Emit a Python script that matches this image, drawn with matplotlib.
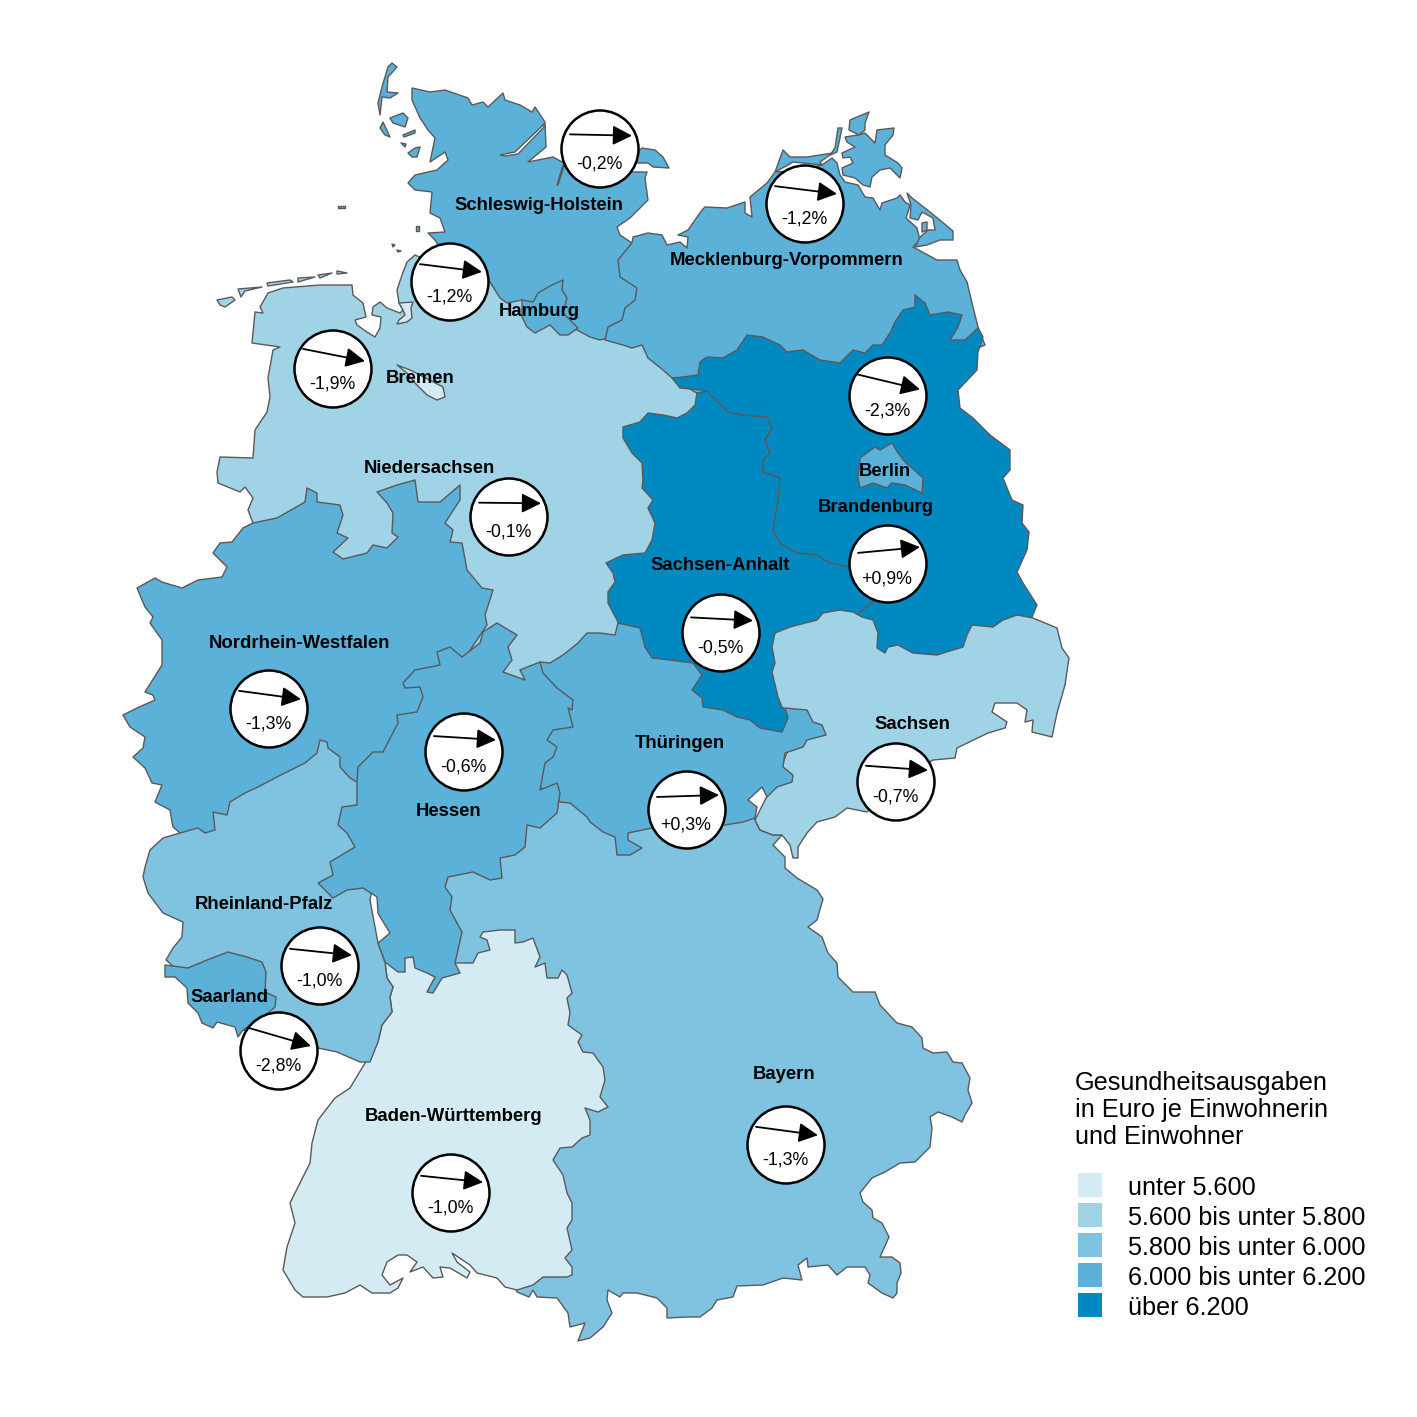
import matplotlib
matplotlib.use("Agg")
import matplotlib.pyplot as plt
from matplotlib.patches import Polygon, Circle, Rectangle, FancyArrowPatch

plt.rcParams['font.family'] = ['Liberation Sans', 'DejaVu Sans']

C1, C2, C3, C4, C5 = '#d4ebf4', '#a1d3e7', '#80c3e0', '#5bb1d7', '#0088c0'
EDGE = '#595959'

bayern = [(755,820),(760,830),(773,835),(782,835),(773,845),(785,857),(785,868),(797,878),(817,890),(823,899),(817,920),(808,927),(822,937),(828,953),(837,963),(838,977),(853,992),(875,992),(880,1005),(897,1023),(912,1027),(922,1038),(923,1048),(933,1053),(947,1052),(953,1062),(962,1063),(970,1078),(968,1090),(972,1103),(965,1115),(962,1122),(952,1117),(938,1112),(930,1117),(932,1128),(930,1147),(915,1162),(900,1163),(885,1172),(872,1178),(860,1193),(863,1202),(872,1210),(873,1218),(882,1223),(889,1237),(880,1257),(892,1257),(900,1263),(901,1273),(897,1283),(897,1293),(893,1298),(882,1293),(868,1283),(870,1275),(865,1267),(847,1267),(837,1275),(828,1265),(808,1267),(807,1258),(798,1265),(802,1280),(783,1278),(763,1285),(737,1286),(733,1297),(717,1300),(712,1308),(700,1317),(687,1317),(667,1318),(667,1308),(657,1298),(637,1293),(623,1293),(620,1297),(608,1290),(607,1300),(612,1313),(603,1327),(590,1338),(578,1341),(585,1323),(570,1327),(568,1313),(557,1298),(537,1297),(533,1290),(529,1297),(517,1292),(450,1100),(420,950),(440,860),(560,780),(700,760),(745,790)]
baden_wuerttemberg = [(385,962),(400,945),(440,945),(455,963),(473,963),(478,953),(490,950),(487,940),(480,937),(483,932),(500,930),(515,930),(515,943),(523,942),(533,938),(540,957),(535,967),(545,963),(547,978),(558,978),(562,970),(567,975),(572,993),(567,998),(570,1013),(568,1025),(582,1035),(578,1042),(583,1052),(593,1053),(603,1067),(605,1080),(600,1097),(608,1107),(598,1112),(585,1108),(590,1120),(590,1135),(582,1138),(572,1147),(560,1148),(553,1160),(563,1175),(567,1193),(572,1203),(572,1220),(567,1228),(572,1250),(565,1258),(572,1267),(572,1275),(567,1277),(543,1277),(533,1285),(517,1290),(505,1287),(497,1278),(477,1273),(470,1265),(452,1253),(457,1262),(470,1272),(467,1278),(450,1268),(440,1267),(443,1277),(433,1278),(423,1267),(410,1272),(417,1262),(407,1255),(398,1255),(387,1262),(382,1275),(390,1285),(403,1278),(398,1288),(390,1293),(372,1293),(360,1285),(345,1293),(327,1297),(303,1297),(295,1290),(283,1270),(287,1247),(295,1223),(290,1203),(303,1177),(310,1163),(312,1143),(318,1120),(335,1098),(350,1088),(365,1063),(378,1042),(382,1025),(392,1012),(390,997),(393,987),(387,978)]
niedersachsen = [(255,312),(263,313),(260,307),(268,293),(283,288),(320,285),(352,285),(353,295),(363,303),(366,317),(355,320),(357,325),(367,332),(375,337),(380,328),(381,317),(372,315),(373,307),(380,302),(387,308),(400,313),(403,310),(399,303),(397,290),(402,275),(407,262),(415,255),(450,270),(490,282),(530,300),(620,320),(680,370),(710,400),(660,460),(660,550),(640,600),(630,640),(560,680),(530,690),(470,660),(440,600),(330,565),(260,540),(253,523),(248,510),(253,498),(245,487),(240,492),(218,483),(217,472),(220,457),(253,458),(255,430),(267,412),(270,397),(268,378),(273,350),(280,347),(252,343)]
frisian_1 = [(217,300),(232,297),(235,300),(225,307),(220,305)]
frisian_2 = [(238,289),(262,287),(245,291),(241,297)]
frisian_3 = [(267,283),(290,280),(293,282),(268,286)]
frisian_4 = [(298,278),(315,277),(298,282)]
frisian_5 = [(318,275),(332,273),(320,278)]
frisian_6 = [(337,271),(347,273),(337,274)]
schleswig_holstein = [(412,88),(430,92),(445,90),(468,98),(472,105),(483,102),(488,107),(503,93),(505,100),(520,105),(532,112),(535,107),(545,122),(546,147),(528,162),(553,157),(562,162),(600,175),(633,172),(647,172),(645,178),(648,200),(630,218),(617,227),(620,235),(632,243),(650,290),(620,335),(600,340),(590,337),(577,330),(550,320),(522,300),(507,303),(500,298),(490,282),(450,270),(437,243),(435,240),(428,233),(445,232),(440,218),(430,213),(432,192),(415,190),(408,183),(415,175),(437,170),(448,160),(445,152),(430,162),(435,138),(428,130),(420,118),(412,100)]
fehmarn = [(635,155),(642,148),(655,150),(663,157),(669,168),(653,167),(648,163),(635,163)]
sylt = [(392,63),(397,67),(388,77),(387,92),(398,93),(390,98),(382,97),(380,115),(378,103),(382,87),(388,67)]
foehr = [(390,118),(403,113),(408,118),(405,127),(393,123)]
amrum = [(383,122),(390,137),(385,135),(380,128)]
pellworm = [(408,153),(415,148),(420,147),(417,157),(412,157)]
hallig_1 = [(403,135),(415,130),(415,133),(404,137)]
hallig_2 = [(401,143),(406,144),(405,147)]
hallig_3 = [(338,206),(345,206),(345,208),(338,208)]
hallig_4 = [(416,226),(419,226),(419,231),(416,231)]
hallig_5 = [(392,244),(395,245),(393,247)]
hallig_6 = [(397,250),(401,251),(398,252)]
hamburg = [(522,300),(533,302),(538,293),(552,285),(563,280),(562,290),(567,298),(563,313),(578,328),(568,335),(560,335),(550,325),(535,333),(527,327),(522,317)]
mecklenburg = [(632,243),(633,237),(648,233),(662,235),(667,245),(680,242),(687,248),(688,237),(678,235),(688,230),(702,210),(705,207),(727,208),(745,202),(745,213),(752,217),(750,197),(767,183),(775,172),(800,170),(822,165),(832,158),(837,163),(840,175),(845,182),(858,185),(865,197),(873,198),(880,210),(882,203),(897,198),(900,195),(905,202),(910,205),(908,212),(906,218),(917,228),(920,240),(913,247),(937,260),(957,260),(960,270),(967,282),(973,307),(978,327),(985,345),(900,380),(700,395),(672,378),(663,370),(648,358),(642,345),(632,348),(623,345),(605,340),(608,327),(622,320),(625,308),(635,300),(637,288),(620,277),(618,260)]
darss = [(775,172),(783,150),(790,157),(807,157),(833,153),(820,162),(822,165),(803,163),(793,162),(788,165)]
usedom = [(907,193),(912,198),(930,212),(953,231),(953,240),(940,240),(927,245),(915,247),(920,237),(928,230),(935,230),(933,218),(922,212),(918,220),(910,218),(911,205)]
usedom_inner = [(922,223),(927,222),(927,230),(922,232)]
ruegen = [(845,137),(858,135),(865,133),(875,143),(877,130),(894,128),(893,135),(885,145),(885,155),(898,163),(902,168),(900,178),(890,168),(880,170),(872,177),(870,187),(863,185),(855,178),(843,175),(842,168),(853,163),(850,157),(843,158),(842,153),(855,147),(847,142)]
wittow = [(849,130),(850,120),(869,112),(865,123),(865,130),(859,135)]
hiddensee = [(838,128),(842,128),(837,152),(830,155),(835,148)]
brandenburg = [(672,378),(683,377),(698,375),(700,362),(707,357),(723,358),(737,350),(747,335),(763,337),(780,345),(787,352),(803,350),(820,360),(840,363),(853,350),(865,353),(873,345),(882,345),(890,333),(895,322),(903,310),(915,307),(915,295),(925,303),(930,315),(948,312),(962,315),(958,327),(950,340),(965,340),(978,328),(983,337),(978,352),(977,370),(958,390),(960,408),(973,418),(990,435),(1010,450),(1010,470),(1003,478),(1012,500),(1023,505),(1022,523),(1029,532),(1027,550),(1017,572),(1023,583),(1037,605),(1032,617),(1000,640),(900,670),(830,640),(800,590),(760,500),(720,420),(702,390),(680,388)]
sachsen_anhalt = [(707,391),(713,397),(728,412),(743,415),(767,417),(772,428),(765,440),(770,453),(763,460),(763,472),(780,478),(778,500),(773,530),(780,543),(797,553),(817,555),(830,563),(850,567),(873,602),(860,612),(840,640),(790,690),(795,720),(775,745),(700,720),(640,660),(618,623),(618,622),(608,603),(608,592),(615,582),(613,573),(606,563),(623,555),(645,553),(652,540),(655,523),(648,508),(653,500),(642,488),(643,480),(642,463),(632,453),(623,438),(623,427),(640,422),(648,413),(663,415),(677,418),(687,413),(695,405),(697,393)]
sachsen = [(775,633),(790,627),(817,620),(823,613),(840,610),(853,612),(862,617),(873,620),(878,633),(877,648),(885,653),(888,647),(898,645),(913,653),(937,655),(953,650),(963,647),(967,635),(972,625),(993,627),(1003,620),(1017,615),(1033,618),(1057,628),(1062,648),(1069,658),(1065,685),(1057,713),(1052,737),(1032,732),(1033,720),(1025,722),(1027,710),(1017,703),(995,703),(992,712),(1007,722),(1005,728),(988,733),(957,748),(955,758),(933,760),(896,782),(867,812),(847,808),(835,817),(817,822),(807,833),(798,847),(798,858),(793,858),(790,845),(782,835),(773,835),(760,830),(755,820),(780,770),(800,720),(782,707),(778,697),(772,672),(775,663),(772,647)]
thueringen = [(618,623),(640,628),(645,647),(652,658),(670,660),(693,663),(702,675),(692,690),(702,698),(703,707),(723,710),(737,717),(750,720),(760,728),(782,732),(788,718),(785,708),(807,710),(813,722),(822,725),(826,735),(807,740),(803,747),(785,753),(783,767),(793,775),(792,782),(777,787),(767,797),(762,787),(748,800),(757,807),(755,818),(743,822),(725,825),(690,830),(652,828),(628,833),(628,840),(642,848),(630,855),(617,855),(615,837),(603,832),(590,822),(587,817),(570,803),(560,802),(530,780),(530,700),(540,662),(550,663),(563,655),(578,643),(587,633),(600,633),(615,635)]
nordrhein_westfalen = [(307,488),(317,493),(317,502),(340,505),(343,515),(337,533),(348,538),(333,552),(343,559),(367,553),(373,545),(387,548),(398,537),(392,533),(393,513),(387,503),(377,492),(397,485),(415,480),(418,502),(440,502),(460,485),(460,500),(445,523),(453,530),(450,542),(462,543),(467,570),(482,588),(493,590),(485,615),(487,625),(450,680),(400,740),(355,790),(340,800),(200,850),(173,827),(172,822),(170,810),(155,802),(162,785),(152,783),(145,768),(133,757),(143,748),(145,737),(130,727),(123,715),(137,708),(155,700),(153,695),(145,692),(162,665),(162,640),(150,623),(153,617),(145,607),(137,588),(155,578),(162,582),(182,588),(198,580),(222,577),(227,567),(213,553),(220,543),(232,542),(243,528),(253,523),(277,518),(305,502)]
rheinland_pfalz = [(320,740),(327,742),(328,748),(340,757),(340,767),(350,778),(357,782),(380,850),(370,900),(378,943),(385,962),(387,978),(393,987),(390,997),(392,1012),(382,1025),(378,1042),(370,1062),(360,1062),(337,1052),(318,1048),(243,1030),(200,990),(166,960),(173,948),(182,937),(183,922),(163,913),(148,893),(143,877),(145,867),(150,850),(163,838),(173,835),(180,833),(198,828),(205,833),(215,830),(213,812),(227,815),(230,802),(245,793),(258,787),(277,777),(305,763),(317,753)]
saarland = [(165,965),(188,968),(207,960),(228,952),(247,957),(262,962),(266,972),(265,992),(276,997),(275,1007),(268,1013),(243,1030),(238,1037),(235,1027),(217,1022),(213,1028),(202,1023),(198,1013),(188,1003),(187,988),(175,977),(165,977)]
hessen = [(483,632),(497,623),(517,635),(508,647),(512,660),(503,672),(525,680),(520,670),(540,662),(543,673),(557,688),(573,700),(572,710),(568,708),(573,727),(553,730),(547,740),(557,747),(553,757),(545,763),(540,790),(557,783),(560,793),(557,813),(540,828),(527,825),(525,847),(515,855),(500,858),(502,878),(490,880),(473,872),(448,877),(445,887),(452,897),(450,910),(462,932),(455,963),(460,973),(442,978),(433,993),(427,992),(435,977),(427,973),(415,968),(413,957),(405,958),(405,972),(398,972),(385,962),(378,943),(390,933),(382,920),(378,913),(377,897),(363,888),(347,890),(333,898),(318,883),(333,875),(330,862),(355,847),(347,833),(338,825),(342,807),(357,805),(357,782),(358,767),(373,752),(383,752),(398,723),(397,715),(417,712),(423,697),(420,687),(405,688),(403,683),(415,670),(440,665),(437,652),(450,647),(462,657),(480,643)]
berlin = [(860,458),(875,447),(880,450),(892,443),(898,453),(905,462),(912,468),(923,478),(922,493),(905,485),(892,483),(887,488),(873,483),(860,488),(858,478)]
bremen = [(397,365),(410,370),(420,375),(443,387),(445,397),(437,400),(427,395),(415,383),(407,373)]
bremerhaven = [(399,303),(413,302),(411,308),(412,318),(407,322),(397,324),(399,320),(405,315),(403,310)]
schlei = [(500,155),(515,152),(537,131),(544,124),(544,127),(518,154),(505,156)]
kiel_inlet = [(557,185),(563,165),(564,166),(558,185)]

# (polygon, colour) in drawing order
state_layers = [
    (bayern, C3), (baden_wuerttemberg, C1),
    (niedersachsen, C2), (frisian_1, C2), (frisian_2, C2), (frisian_3, C2),
    (frisian_4, C2), (frisian_5, C2), (frisian_6, C2),
    (schleswig_holstein, C4), (fehmarn, C4), (sylt, C4), (foehr, C4), (amrum, C4),
    (pellworm, C4), (hallig_1, C4), (hallig_2, C4), (hallig_3, C4), (hallig_4, C4),
    (hallig_5, C4), (hallig_6, C4), (schlei, 'white'), (kiel_inlet, 'white'),
    (hamburg, C4), (mecklenburg, C4), (darss, C4), (usedom, C4), (usedom_inner, C4),
    (ruegen, C4), (wittow, C4), (hiddensee, C4),
    (brandenburg, C5), (sachsen_anhalt, C5), (sachsen, C2), (thueringen, C4),
    (nordrhein_westfalen, C4), (rheinland_pfalz, C3), (saarland, C4), (hessen, C4),
    (berlin, C4), (bremen, C1), (bremerhaven, C1),
]

state_names = ['Schleswig-Holstein', 'Mecklenburg-Vorpommern', 'Hamburg', 'Bremen', 'Niedersachsen',
               'Berlin', 'Brandenburg', 'Sachsen-Anhalt', 'Nordrhein-Westfalen', 'Sachsen', 'Thüringen',
               'Hessen', 'Rheinland-Pfalz', 'Saarland', 'Bayern', 'Baden-Württemberg']
label_x = [539, 787, 539, 420, 429, 885, 876, 720, 299, 912, 680, 449, 264, 229, 784, 454]
label_y = [204, 259, 310, 377, 467, 470, 506, 564, 642, 723, 742, 810, 903, 996, 1073, 1115]

change_values = [-0.2, -1.2, -1.2, -1.9, -0.1, -2.3, 0.9, -0.5, -1.3, -0.7, 0.3, -0.6, -1.0, -2.8, -1.3, -1.0]
circle_x = [600, 805, 450, 333, 509, 888, 888, 721, 269, 896, 687, 464, 320, 279, 786, 451]
circle_y = [149, 204, 282, 369, 517, 396, 564, 633, 709, 782, 810, 752, 966, 1051, 1145, 1193]

legend_title = ['Gesundheitsausgaben', 'in Euro je Einwohnerin', 'und Einwohner']
legend_labels = ['unter 5.600', '5.600 bis unter 5.800', '5.800 bis unter 6.000', '6.000 bis unter 6.200', 'über 6.200']
legend_colors = [C1, C2, C3, C4, C5]

fig = plt.figure(figsize=(14.17, 14.17), dpi=100, facecolor='white')
ax = fig.add_axes([0, 0, 1, 1])
ax.set_xlim(0, 1417)
ax.set_ylim(1417, 0)
ax.axis('off')

for z, (poly, col) in enumerate(state_layers):
    ax.add_patch(Polygon(poly, closed=True, facecolor=col, edgecolor=EDGE, linewidth=1.0,
                         joinstyle='round', zorder=1 + z * 0.01))

SLOPE = 0.107
for cx, cy, v in zip(circle_x, circle_y, change_values):
    ax.add_patch(Circle((cx, cy), 38.5, facecolor='white', edgecolor='black', linewidth=1.8, zorder=3))
    dy = -v * SLOPE * 30
    ax.add_patch(FancyArrowPatch((cx - 30, cy - 14 - dy), (cx + 32, cy - 14 + dy),
                                 arrowstyle='-|>,head_length=0.65,head_width=0.33', mutation_scale=18,
                                 shrinkA=0, shrinkB=0, color='black', linewidth=1.3, zorder=4))
    s = f'{v:+.1f}%'.replace('.', ',')
    ax.text(cx - 1, cy + 15, s, ha='center', va='center', fontsize=12.8, color='black', zorder=5)

for name, x, y in zip(state_names, label_x, label_y):
    ax.text(x, y + 1.5, name, ha='center', va='center', fontsize=13.3, fontweight='bold', color='black', zorder=6)

for line, y in zip(legend_title, [1083, 1110, 1137]):
    ax.text(1075, y, line, ha='left', va='center', fontsize=18.2, color='black')
for i, (lab, col) in enumerate(zip(legend_labels, legend_colors)):
    ax.add_patch(Rectangle((1078, 1173 + 30 * i), 24, 24, facecolor=col, edgecolor='none'))
    ax.text(1128, 1188 + 30 * i, lab, ha='left', va='center', fontsize=18.2, color='black')

fig.savefig('out.png', dpi=100, facecolor='white')
